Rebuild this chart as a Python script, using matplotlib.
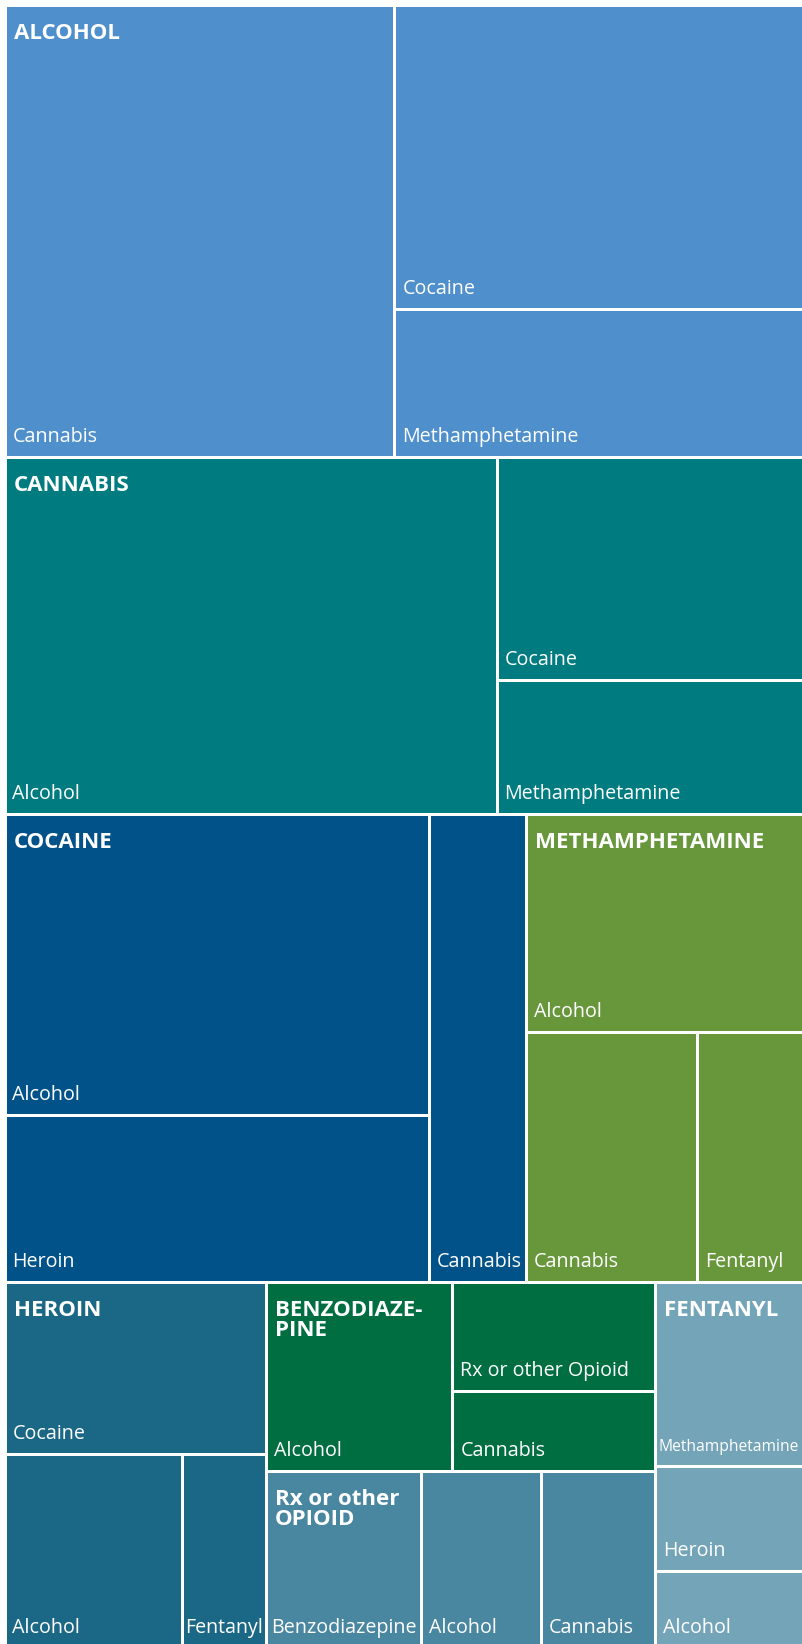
import matplotlib.pyplot as plt
from matplotlib.patches import Rectangle

plt.rcParams['font.family'] = ['Open Sans', 'DejaVu Sans']

# Primary substance (group) and co-occurring substances (cells)
groups = ["ALCOHOL", "CANNABIS", "COCAINE", "METHAMPHETAMINE",
          "HEROIN", "BENZODIAZE-\nPINE", "Rx or other\nOPIOID", "FENTANYL"]
group_colors = ["#4F8FCC", "#007C80", "#005288", "#68973B",
                "#1B6786", "#006E41", "#4986A0", "#74A4B7"]

alcohol_subs = ["Cannabis", "Cocaine", "Methamphetamine"]
alcohol_vals = [1595, 1130, 551]
cannabis_subs = ["Alcohol", "Cocaine", "Methamphetamine"]
cannabis_vals = [1591, 623, 376]
cocaine_subs = ["Alcohol", "Heroin", "Cannabis"]
cocaine_vals = [1155, 642, 409]
meth_subs = ["Alcohol", "Cannabis", "Fentanyl"]
meth_vals = [551, 388, 245]
heroin_subs = ["Cocaine", "Alcohol", "Fentanyl"]
heroin_vals = [408, 311, 147]
benzo_subs = ["Alcohol", "Rx or other Opioid", "Cannabis"]
benzo_vals = [319, 201, 147]
opioid_subs = ["Benzodiazepine", "Alcohol", "Cannabis"]
opioid_vals = [247, 192, 183]
fentanyl_subs = ["Methamphetamine", "Heroin", "Alcohol"]
fentanyl_vals = [250, 143, 104]

subs = [alcohol_subs, cannabis_subs, cocaine_subs, meth_subs,
        heroin_subs, benzo_subs, opioid_subs, fentanyl_subs]
vals = [alcohol_vals, cannabis_vals, cocaine_vals, meth_vals,
        heroin_vals, benzo_vals, opioid_vals, fentanyl_vals]

# slice-and-dice split trees: 'v' stacks top to bottom, 'h' goes left to right
top_split = ('v', [0, 1, ('h', [2, 3]), ('h', [4, ('v', [5, 6]), 7])])
inner_splits = [
    ('h', [0, ('v', [1, 2])]),
    ('h', [0, ('v', [1, 2])]),
    ('h', [('v', [0, 1]), 2]),
    ('v', [0, ('h', [1, 2])]),
    ('v', [0, ('h', [1, 2])]),
    ('h', [0, ('v', [1, 2])]),
    ('h', [0, 1, 2]),
    ('v', [0, 1, 2]),
]


def node_total(node, values):
    if isinstance(node, tuple):
        return sum(node_total(c, values) for c in node[1])
    return values[node]


def split_layout(node, values, x0, y0, x1, y1, out):
    if not isinstance(node, tuple):
        out[node] = (x0, y0, x1, y1)
        return
    direction, children = node
    total = node_total(node, values)
    pos = x0 if direction == 'h' else y0
    for c in children:
        frac = node_total(c, values) / total
        if direction == 'h':
            nxt = pos + (x1 - x0) * frac
            split_layout(c, values, pos, y0, nxt, y1, out)
        else:
            nxt = pos + (y1 - y0) * frac
            split_layout(c, values, x0, pos, x1, nxt, out)
        pos = nxt


W, H = 802, 1644
fig = plt.figure(figsize=(W / 100, H / 100), dpi=100)
ax = fig.add_axes([0, 0, 1, 1])
ax.set_xlim(0, W)
ax.set_ylim(H, 0)
ax.axis('off')

gap = 1.5
label_size = 14.2
group_totals = [sum(v) for v in vals]
group_rects = {}
split_layout(top_split, group_totals, 5, 5.5, 806, 1648, group_rects)

fig.canvas.draw()
renderer = fig.canvas.get_renderer()

for g in range(len(groups)):
    gx0, gy0, gx1, gy1 = group_rects[g]
    cells = {}
    split_layout(inner_splits[g], vals[g], gx0, gy0, gx1, gy1, cells)
    for i, name in enumerate(subs[g]):
        x0, y0, x1, y1 = cells[i]
        ax.add_patch(Rectangle((x0 + gap, y0 + gap), x1 - x0 - 2 * gap,
                               y1 - y0 - 2 * gap, facecolor=group_colors[g],
                               edgecolor='none'))
        t = ax.text(x0 + gap + 6, y1 - gap - 14, name, color='white',
                    fontsize=label_size, ha='left', va='baseline')
        # narrow cells: tighten the padding first, then shrink the label
        tw = t.get_window_extent(renderer).width
        avail = min(x1, W) - x0 - 2 * gap
        if tw + 8 > avail:
            pad = max(1.5, (avail - tw) / 2)
            t.set_x(x0 + gap + pad)
            if tw + 2 * pad > avail:
                t.set_fontsize(label_size * (avail - 3) / tw)
    ax.text(gx0 + gap + 7, gy0 + gap + 16, groups[g], color='white',
            fontsize=16, fontweight='bold', ha='left', va='top',
            linespacing=0.95)

fig.savefig('out.png', dpi=100)
